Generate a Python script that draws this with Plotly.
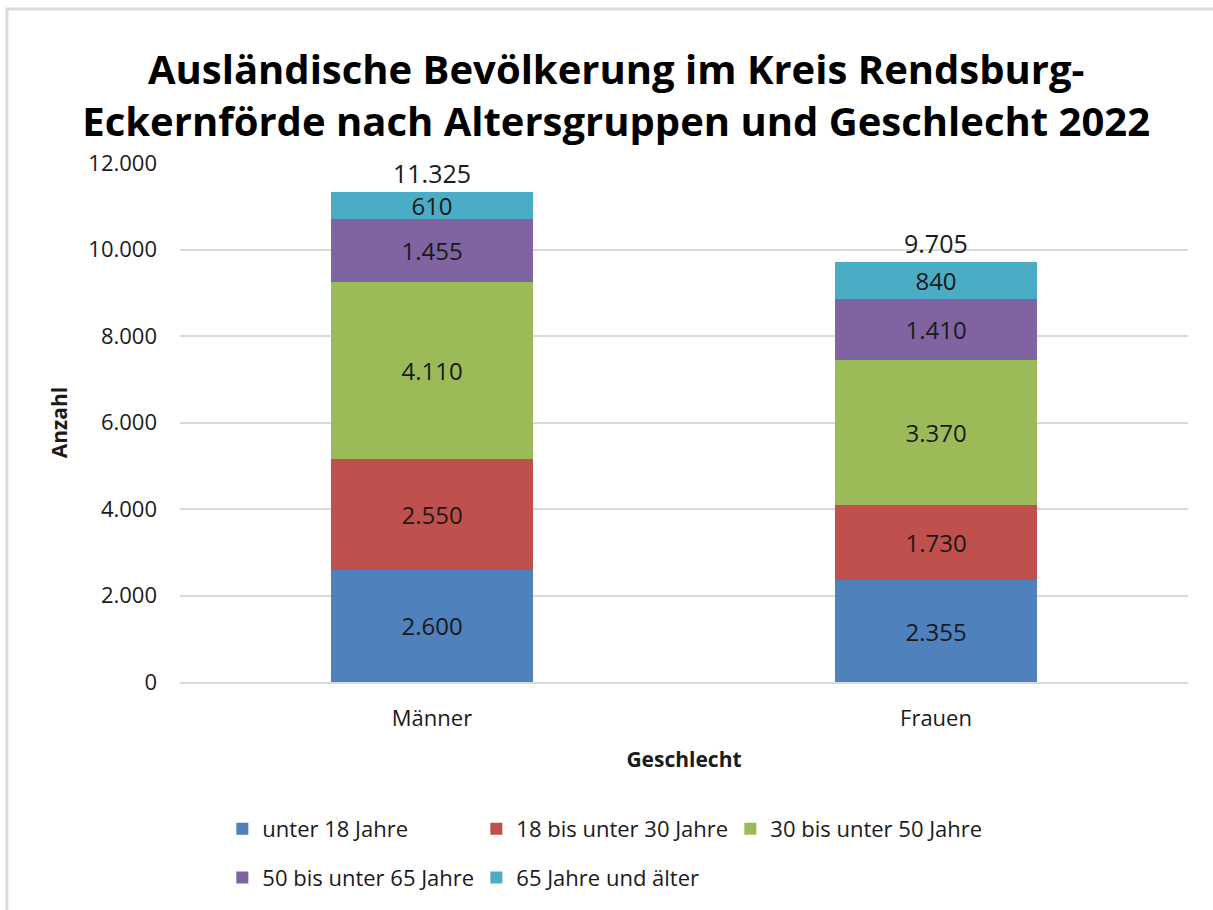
import plotly.graph_objects as go

categories = ["Männer", "Frauen"]
groups = ["unter 18 Jahre", "18 bis unter 30 Jahre", "30 bis unter 50 Jahre",
          "50 bis unter 65 Jahre", "65 Jahre und älter"]
values = {
    "unter 18 Jahre": [2600, 2355],
    "18 bis unter 30 Jahre": [2550, 1730],
    "30 bis unter 50 Jahre": [4110, 3370],
    "50 bis unter 65 Jahre": [1455, 1410],
    "65 Jahre und älter": [610, 840],
}
totals = [11325, 9705]
total_labels = ["11.325", "9.705"]
colors = ["#4F81BD", "#C0504D", "#9BBB59", "#8064A2", "#4BACC6"]

FONT = "Open Sans"
TXT = "#1a1a1a"

fig = go.Figure()
for i, g in enumerate(groups):
    fig.add_trace(go.Bar(
        x=categories, y=values[g], name=g,
        marker=dict(color=colors[i], line=dict(width=0)),
        texttemplate="%{y:,.0f}", textposition="inside",
        insidetextanchor="middle", textangle=0, constraintext="none",
        textfont=dict(family=FONT, size=24, color=TXT),
        legend="legend" if i < 3 else "legend2",
        hoverinfo="skip",
    ))

annotations = [
    dict(x=c, y=t, xref="x", yref="y", text=lbl, showarrow=False,
         yanchor="bottom", yshift=1, borderpad=0,
         font=dict(family=FONT, size=25, color=TXT))
    for c, t, lbl in zip(categories, totals, total_labels)
]

legend_common = dict(
    orientation="h", xanchor="left", yanchor="middle",
    entrywidth=209, entrywidthmode="pixels", traceorder="normal",
    font=dict(family=FONT, size=22, color=TXT),
    bgcolor="rgba(0,0,0,0)", itemclick=False, itemdoubleclick=False,
)

fig.update_layout(
    width=1213, height=910,
    barmode="stack", bargap=0.6,
    separators=",.",
    paper_bgcolor="white", plot_bgcolor="white",
    margin=dict(l=180, r=25, t=163, b=225),
    font=dict(family=FONT, size=22, color=TXT),
    title=dict(
        text="<b>Ausländische Bevölkerung im Kreis Rendsburg-<br>Eckernförde nach Altersgruppen und Geschlecht 2022</b>",
        x=0.508, xanchor="center", y=0.908, yanchor="middle",
        font=dict(family=FONT, size=40, color="black"),
    ),
    xaxis=dict(
        title=dict(text="<b>Geschlecht</b>", font=dict(family=FONT, size=21, color=TXT), standoff=21),
        showline=True, linecolor="#d9d9d9", linewidth=2,
        ticks="", ticklabelstandoff=16,
        tickfont=dict(family=FONT, size=22, color=TXT),
    ),
    yaxis=dict(
        title=dict(text="<b>Anzahl</b>", font=dict(family=FONT, size=21, color=TXT), standoff=14),
        range=[0, 12000], dtick=2000, tickformat=",.0f",
        showgrid=True, gridcolor="#d9d9d9", gridwidth=2,
        zeroline=False, showline=False, ticks="", ticklabelstandoff=22,
        tickfont=dict(family=FONT, size=22, color=TXT),
    ),
    legend=dict(legend_common, x=0.042, y=-0.283),
    legend2=dict(legend_common, x=0.042, y=-0.377),
    annotations=annotations,
    shapes=[dict(
        type="rect", xref="paper", yref="paper",
        x0=(7 - 180) / 1008, x1=(1260 - 180) / 1008,
        y0=(685 - 960) / 522, y1=(685 - 8) / 522,
        line=dict(color="#d9d9d9", width=3), layer="below",
    )],
)

fig.write_html("out.html", config={"displayModeBar": False},
               post_script="document.body.style.margin='0px';")
